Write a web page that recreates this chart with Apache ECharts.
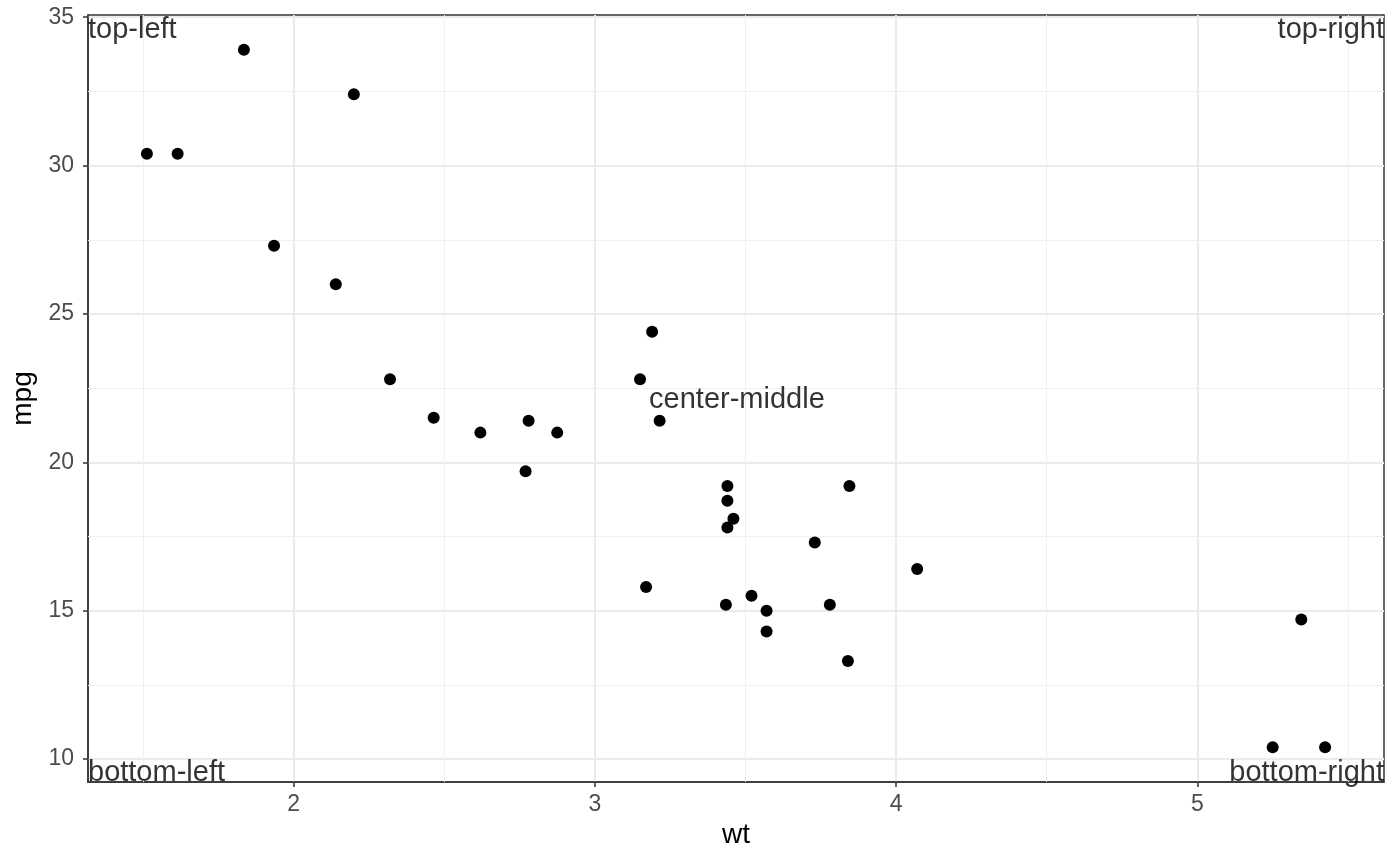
<!DOCTYPE html>
<html>
<head>
    <meta charset="utf-8">
    <title>mpg vs wt</title>
    <script src="https://cdn.jsdelivr.net/npm/echarts@6/dist/echarts.min.js"></script>
    <style>
        html, body { margin: 0; padding: 0; background: #fff; }
    </style>
</head>
<body>
    <div id="main" style="width: 1400px; height: 866px;"></div>

    <script type="text/javascript">
        // mtcars: weight (1000 lbs) and miles per gallon
        var wt = [2.620, 2.875, 2.320, 3.215, 3.440, 3.460, 3.570, 3.190, 3.150, 3.440, 3.440,
                  4.070, 3.730, 3.780, 5.250, 5.424, 5.345, 2.200, 1.615, 1.835, 2.465, 3.520,
                  3.435, 3.840, 3.845, 1.935, 2.140, 1.513, 3.170, 2.770, 3.570, 2.780];
        var mpg = [21.0, 21.0, 22.8, 21.4, 18.7, 18.1, 14.3, 24.4, 22.8, 19.2, 17.8,
                   16.4, 17.3, 15.2, 10.4, 10.4, 14.7, 32.4, 30.4, 33.9, 21.5, 15.5,
                   15.2, 13.3, 19.2, 27.3, 26.0, 30.4, 15.8, 19.7, 15.0, 21.4];

        // axis limits (data range + 5%) and minor grid positions
        var xLim = [1.31745, 5.61955];
        var yLim = [9.225, 35.075];
        var xMinor = [1.5, 2.5, 3.5, 4.5, 5.5];
        var yMinor = [12.5, 17.5, 22.5, 27.5, 32.5];

        // text annotations
        var annotText = ['top-left', 'top-right', 'bottom-left', 'bottom-right', 'center-middle'];
        var annotX = [xLim[0], xLim[1], xLim[0], xLim[1], 3.18];
        var annotY = [yLim[1], yLim[1], yLim[0], yLim[0], 22.1];

        var points = wt.map(function (w, i) { return [w, mpg[i]]; });

        var annots = annotText.map(function (t, i) {
            var align = t.indexOf('right') >= 0 ? 'right' : 'left';
            var vAlign = t.indexOf('top') === 0 ? 'top' : (t.indexOf('bottom') === 0 ? 'bottom' : 'middle');
            return {
                value: [annotX[i], annotY[i]],
                label: {
                    formatter: t, align: align, verticalAlign: vAlign,
                    offset: vAlign === 'bottom' ? [0, 5] : [0, 0]
                }
            };
        });

        var font = "'Liberation Sans', Arial, Helvetica, sans-serif";

        var minorLines = xMinor.map(function (v) { return { xAxis: v }; })
            .concat(yMinor.map(function (v) { return { yAxis: v }; }));

        var myChart = echarts.init(document.getElementById('main'));

        var option = {
            animation: false,
            backgroundColor: '#ffffff',
            textStyle: { fontFamily: font },
            grid: {
                left: 88, right: 16, top: 15, bottom: 84,
                show: true,
                borderColor: '#333333',
                borderWidth: 1.5,
                backgroundColor: 'transparent'
            },
            xAxis: {
                type: 'value',
                name: 'wt',
                nameLocation: 'middle',
                nameGap: 39,
                nameTextStyle: { color: '#000', fontSize: 28, fontFamily: font },
                min: xLim[0],
                max: xLim[1],
                splitNumber: 5,
                axisLine: { show: true, lineStyle: { color: '#333333', width: 1.5 } },
                axisTick: { show: true, length: 5, lineStyle: { color: '#333333', width: 1.5 } },
                axisLabel: {
                    color: '#4D4D4D', fontSize: 23, margin: 11, fontFamily: font,
                    showMinLabel: false, showMaxLabel: false
                },
                splitLine: {
                    show: true, showMinLine: false, showMaxLine: false,
                    lineStyle: { color: '#EBEBEB', width: 2 }
                }
            },
            yAxis: {
                type: 'value',
                name: 'mpg',
                nameLocation: 'middle',
                nameGap: 48,
                nameTextStyle: { color: '#000', fontSize: 28, fontFamily: font },
                min: yLim[0],
                max: yLim[1],
                splitNumber: 5,
                axisLine: { show: true, lineStyle: { color: '#333333', width: 1.5 } },
                axisTick: { show: true, length: 5, lineStyle: { color: '#333333', width: 1.5 } },
                axisLabel: {
                    color: '#4D4D4D', fontSize: 23, margin: 14, fontFamily: font,
                    showMinLabel: false, showMaxLabel: false
                },
                splitLine: {
                    show: true, showMinLine: false, showMaxLine: false,
                    lineStyle: { color: '#EBEBEB', width: 2 }
                }
            },
            series: [
                {
                    // minor grid lines
                    type: 'scatter',
                    data: [],
                    silent: true,
                    markLine: {
                        silent: true,
                        symbol: ['none', 'none'],
                        z: 1,
                        label: { show: false },
                        lineStyle: { color: '#F0F0F0', width: 1, type: 'solid' },
                        data: minorLines
                    }
                },
                {
                    name: 'cars',
                    type: 'scatter',
                    symbol: 'circle',
                    symbolSize: 12,
                    itemStyle: { color: '#000000', opacity: 1 },
                    data: points,
                    z: 3
                },
                {
                    name: 'annotations',
                    type: 'scatter',
                    symbolSize: 0,
                    silent: true,
                    z: 4,
                    label: {
                        show: true,
                        position: [0, 0],
                        color: '#000000',
                        fontSize: 29,
                        fontFamily: font
                    },
                    data: annots
                }
            ]
        };

        myChart.setOption(option);
    </script>
</body>
</html>
